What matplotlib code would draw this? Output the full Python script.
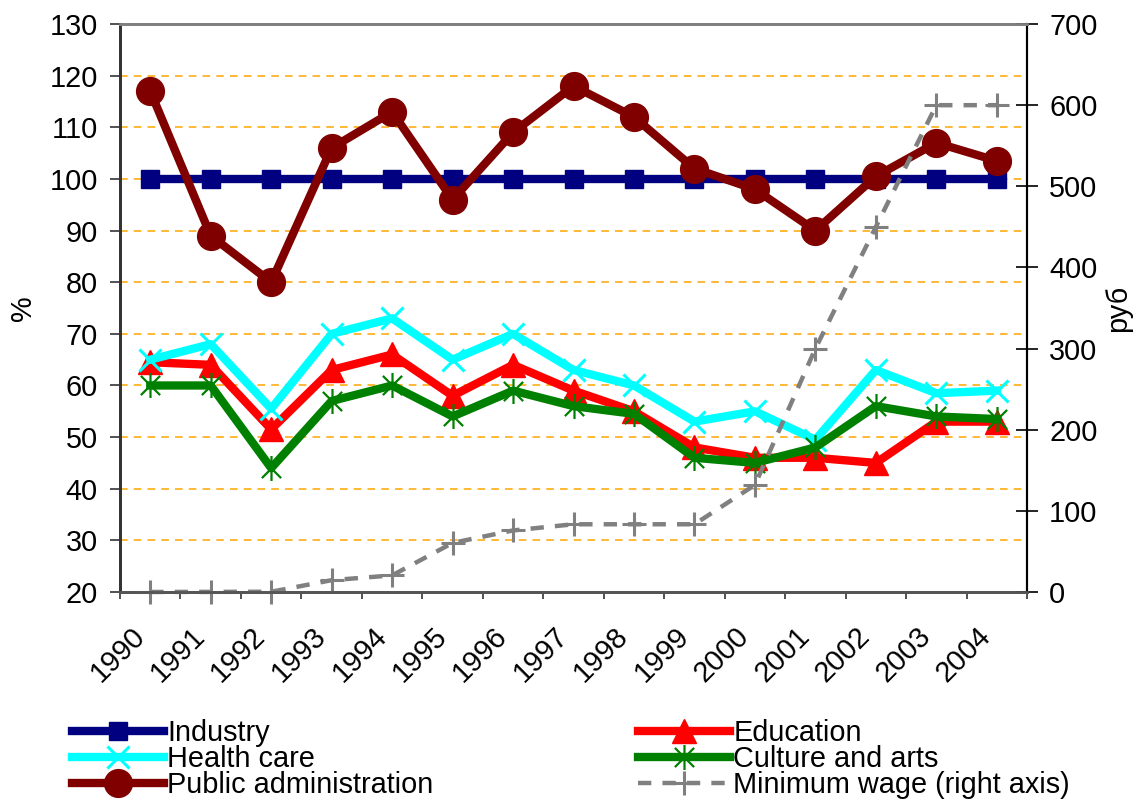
"""Average wages by sector relative to industry, with the minimum wage on a second axis."""

import matplotlib

matplotlib.use("Agg")
from matplotlib import pyplot as plt
from matplotlib.path import Path
from matplotlib.transforms import ScaledTranslation

plt.rcParams["font.family"] = ["Liberation Sans", "DejaVu Sans"]

YEARS = [str(year) for year in range(1990, 2005)]

INDUSTRY = [100] * 15
EDUCATION = [64.5, 64, 51.5, 63, 66, 58, 64, 59, 55, 48, 46, 46, 45, 53, 53]
HEALTH_CARE = [65, 68, 55.5, 70, 73, 65, 70, 63, 60, 53, 55, 49.5, 63, 58.5, 59]
CULTURE = [60, 60, 44, 57, 60, 54, 59, 56, 54.5, 46, 45, 48, 56, 54, 53.5]
PUBLIC_ADMIN = [117, 89, 80, 106, 113, 96, 109, 118, 112, 102, 98, 90, 100.5, 107, 103.5]
MIN_WAGE = [0.07, 0.18, 0.34, 14.6, 20.5, 60.5, 75.9, 83.5, 83.5, 83.5, 132, 300, 450, 600, 600]

LEFT_TICKS = list(range(20, 131, 10))
RIGHT_TICKS = list(range(0, 701, 100))

FONT_SIZE = 20.8

# Excel-style asterisk: an x with a vertical bar through it
STAR = Path(
    [(-1, -1), (1, 1), (-1, 1), (1, -1), (0, -1.3), (0, 1.3)],
    [Path.MOVETO, Path.LINETO, Path.MOVETO, Path.LINETO, Path.MOVETO, Path.LINETO],
)


def main() -> None:
    fig = plt.figure(figsize=(11.41, 8.01), dpi=100)
    ax = fig.add_axes([0.1052, 0.2609, 0.7949, 0.7091])
    ax2 = ax.twinx()

    x = list(range(len(YEARS)))

    industry, = ax.plot(x, INDUSTRY, color="#000080", lw=6, marker="s", ms=13,
                        label="Industry", zorder=3)
    education, = ax.plot(x, EDUCATION, color="#FF0000", lw=6, marker="^", ms=17,
                         label="Education", zorder=4)
    health, = ax.plot(x, HEALTH_CARE, color="#00FFFF", lw=6, marker="x", ms=16,
                      mew=2.2, label="Health care", zorder=5)
    culture, = ax.plot(x, CULTURE, color="#008000", lw=6, marker=STAR, ms=18,
                       mew=1.6, label="Culture and arts", zorder=6)
    admin, = ax.plot(x, PUBLIC_ADMIN, color="#800000", lw=6, marker="o", ms=20,
                     label="Public administration", zorder=7)
    wage, = ax2.plot(x, MIN_WAGE, color="#808080", lw=3.2, ls=(0, (3, 2.5)),
                     marker="+", ms=17, mew=2.2, label="Minimum wage (right axis)",
                     clip_on=False)

    ax.set_xlim(-0.5, len(YEARS) - 0.5)
    ax.set_ylim(20, 130)
    ax2.set_ylim(0, 700)

    for value in LEFT_TICKS[1:-1]:
        ax.axhline(value, color="#FFA500", lw=1.1, ls=(0, (5, 4)), zorder=1)

    ax.set_xticks([i - 0.5 for i in range(len(YEARS) + 1)])
    ax.set_xticklabels([])
    ax.set_xticks(x, minor=True)
    ax.set_xticklabels(YEARS, minor=True, fontsize=FONT_SIZE, rotation=45,
                       ha="right", va="center", rotation_mode="anchor")
    ax.tick_params(axis="x", which="major", direction="out", length=5,
                   width=1.2, color="#333333")
    ax.tick_params(axis="x", which="minor", length=0, pad=0)
    offset = ScaledTranslation(-0.10, -0.40, fig.dpi_scale_trans)
    for label in ax.get_xticklabels(minor=True):
        label.set_transform(label.get_transform() + offset)

    ax.set_yticks(LEFT_TICKS)
    ax.tick_params(axis="y", direction="out", length=7, width=1.2,
                   labelsize=FONT_SIZE, pad=9, color="#333333")
    ax2.set_yticks(RIGHT_TICKS)
    ax2.tick_params(axis="y", direction="inout", length=16, width=1.2,
                    labelsize=FONT_SIZE, pad=8, color="black")

    ax.set_ylabel("%", fontsize=FONT_SIZE)
    ax.yaxis.set_label_coords(-0.092, 0.5)
    ax2.set_ylabel("руб", fontsize=FONT_SIZE)
    ax2.yaxis.set_label_coords(1.085, 0.5)

    for axis in (ax, ax2):
        axis.spines["top"].set_color("#808080")
        axis.spines["top"].set_linewidth(2)
        axis.spines["left"].set_color("#333333")
        axis.spines["left"].set_linewidth(2)
        axis.spines["bottom"].set_color("#555555")
        axis.spines["bottom"].set_linewidth(2)
        axis.spines["right"].set_color("black")
        axis.spines["right"].set_linewidth(1.5)

    legend_style = dict(frameon=False, fontsize=FONT_SIZE, handlelength=3.2,
                        handletextpad=0.1, labelspacing=-0.08, borderpad=0,
                        borderaxespad=0, loc="upper left")
    fig.legend(handles=[industry, health, admin],
               bbox_to_anchor=(0.063, 0.102), **legend_style)
    fig.legend(handles=[education, culture, wage],
               bbox_to_anchor=(0.559, 0.102), **legend_style)

    fig.savefig("out.png", dpi=100)
    plt.close(fig)


if __name__ == "__main__":
    main()
